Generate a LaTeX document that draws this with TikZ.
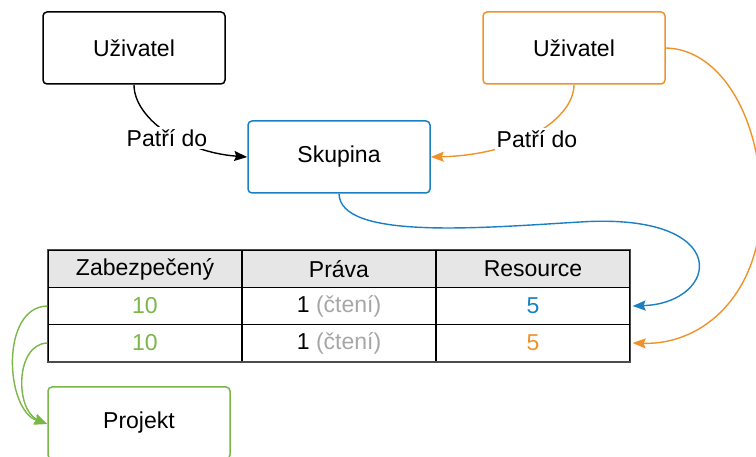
\documentclass[tikz,border=0pt]{standalone}
\usepackage{fontspec}
\setmainfont{Liberation Sans}
\usetikzlibrary{arrows.meta}
\definecolor{cblue}{HTML}{1B7FC4}
\definecolor{corange}{HTML}{F0922B}
\definecolor{cgreen}{HTML}{7AB648}
\definecolor{cgrey}{HTML}{A6A6A6}
\definecolor{chead}{HTML}{E6E6E6}
\tikzset{
  box/.style={draw, line width=1.5pt, rounded corners=4pt, minimum width=182pt,
    minimum height=72pt, inner sep=0pt, font=\fontsize{23}{27}\selectfont},
  cell/.style={draw=black, line width=1.2pt, minimum width=194pt, minimum height=37pt,
    inner sep=0pt, font=\fontsize{23}{27}\selectfont},
  lbl/.style={fill=white, inner sep=2pt, font=\fontsize{23}{27}\selectfont},
  conn/.style={line width=1.4pt, -{Stealth[length=13pt,width=10pt,inset=2pt]}},
}
\begin{document}
\begin{tikzpicture}[x=1pt,y=-1pt]
\useasboundingbox (0,0) rectangle (756,457);
\clip (0,0) rectangle (756,457);

% boxes
\node[box] (u1) at (134,48) {Uživatel};
\node[box, draw=corange] (u2) at (574,48) {Uživatel};
\node[box, draw=cblue] (sk) at (339,157) {Skupina};
\node[box, draw=cgreen] (pr) at (139,423) {Projekt};

% table
\node[cell, fill=chead] (h1) at (145,269) {Zabezpečený};
\node[cell, fill=chead] (h2) at (339,269) {Práva};
\node[cell, fill=chead] (h3) at (533,269) {Resource};
\node[cell, text=cgreen] (a1) at (145,306) {10};
\node[cell] (a2) at (339,306) {1 \textcolor{cgrey}{(čtení)}};
\node[cell, text=cblue] (a3) at (533,306) {5};
\node[cell, text=cgreen] (b1) at (145,343) {10};
\node[cell] (b2) at (339,343) {1 \textcolor{cgrey}{(čtení)}};
\node[cell, text=corange] (b3) at (533,343) {5};
\draw[line width=1.2pt, draw=black!70] (h1.north west) rectangle (b3.south east);

% connectors
\draw[conn] (u1.south) .. controls (134,118) and (182,152) .. (sk.west);
\node[lbl] (l1) at (167,138) {Patří do};
\draw[conn, corange] (u2.south) .. controls (574,118) and (520,155) .. (sk.east);
\node[lbl] (l2) at (537,139) {Patří do};

\draw[conn, cblue] (sk.south) .. controls (340,240) and (480,228) .. (580,222)
  .. controls (735,212) and (720,303) .. ([xshift=2pt]a3.east);
\draw[conn, corange] (u2.east) .. controls (725,49) and (768,130) .. (760,225)
  .. controls (752,300) and (700,345) .. ([xshift=2pt]b3.east);

\draw[conn, cgreen] (a1.west) .. controls (0,307) and (5,410) .. ([yshift=-1pt]pr.west);
\draw[conn, cgreen] (b1.west) .. controls (15,344) and (15,410) .. ([yshift=-1pt]pr.west);
\end{tikzpicture}
\end{document}
